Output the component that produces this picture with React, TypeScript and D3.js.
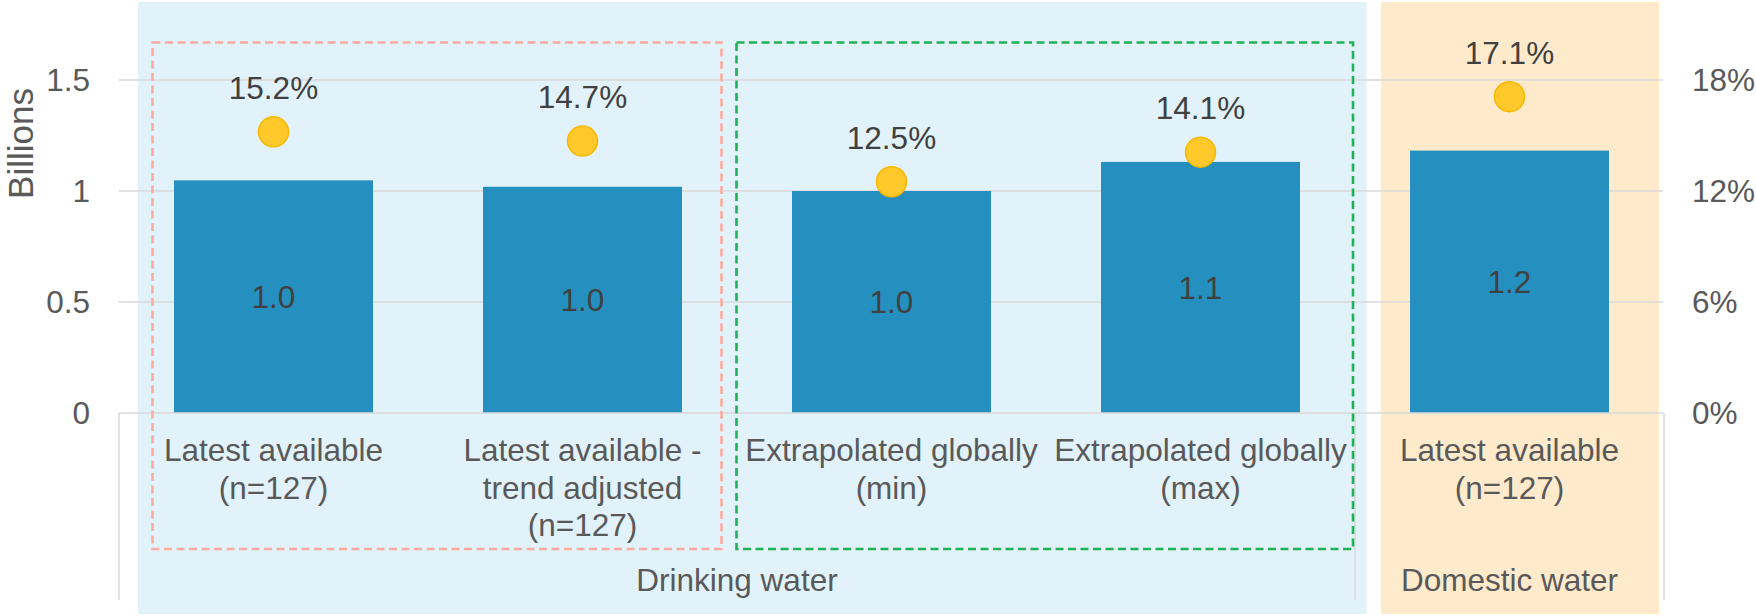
import React from "react";
import * as d3 from "d3";

// Category labels (one array of lines per bar)
const categoryLines: string[][] = [
  ["Latest available", "(n=127)"],
  ["Latest available -", "trend adjusted", "(n=127)"],
  ["Extrapolated globally", "(min)"],
  ["Extrapolated globally", "(max)"],
  ["Latest available", "(n=127)"],
];

// Population without access (billions)
const billions: number[] = [1.048, 1.019, 1.0, 1.131, 1.182];

// Share of population (%)
const shares: number[] = [15.2, 14.7, 12.5, 14.1, 17.1];

// Outer category groups: [first index, last index]
const groupNames: string[] = ["Drinking water", "Domestic water"];
const groupSpans: [number, number][] = [
  [0, 3],
  [4, 4],
];

const leftTicks: number[] = [0, 0.5, 1, 1.5];
const rightTicks: number[] = [0, 6, 12, 18];

const W = 1756;
const H = 616;
const FONT = "'Liberation Sans', Arial, Helvetica, sans-serif";
const FS = 31.5;

export default function App() {
  const x0 = 119;
  const x1 = 1664;
  const yBase = 413;
  const yTop = 80;

  const idx = billions.map((_, i) => i);
  const x = d3
    .scaleBand<number>()
    .domain(idx)
    .range([x0, x1])
    .paddingInner(0.356)
    .paddingOuter(0.178);
  const step = x.step();

  const yL = d3.scaleLinear().domain([0, 1.5]).range([yBase, yTop]);
  const yR = d3.scaleLinear().domain([0, 18]).range([yBase, yTop]);

  const fmtBar = d3.format(".1f");
  const fmtPct = (v: number) => d3.format(".1f")(v) + "%";
  const fmtTickL = (v: number) => (v === 0 ? "0" : d3.format("~g")(v));
  const fmtTickR = (v: number) => `${v}%`;

  const cx = (i: number) => (x(i) as number) + x.bandwidth() / 2;
  const groupEdge = (i: number) => x0 + i * step;

  // dashed boxes surrounding category pairs
  const boxes = [
    { color: "#fdab9f", x: 152.5, x2: 721.5 },
    { color: "#1fb356", x: 736.5, x2: 1353 },
  ];

  return (
    <svg
      width={W}
      height={H}
      style={{ position: "absolute", left: 0, top: 0, fontFamily: FONT }}
    >
      <rect width={W} height={H} fill="#ffffff" />
      {/* group backgrounds */}
      <rect x={138} y={2} width={1366.5 - 138} height={612} fill="#e1f2fa" />
      <rect x={1381} y={2} width={1659 - 1381} height={612} fill="#ffeacc" />

      {/* gridlines */}
      {leftTicks
        .filter((t) => t > 0)
        .map((t) => (
          <line
            key={t}
            x1={x0}
            x2={1663}
            y1={yL(t)}
            y2={yL(t)}
            stroke="#d9d9d9"
            strokeWidth={1.5}
          />
        ))}

      {/* bars */}
      {billions.map((v, i) => (
        <rect
          key={i}
          x={x(i)}
          y={yL(v)}
          width={x.bandwidth()}
          height={yBase - yL(v)}
          fill="#2590bf"
        />
      ))}

      {/* bar value labels */}
      {billions.map((v, i) => (
        <text
          key={i}
          x={cx(i)}
          y={(yL(v) + yBase) / 2}
          dy="0.36em"
          textAnchor="middle"
          fontSize={FS}
          fill="#404040"
        >
          {fmtBar(v)}
        </text>
      ))}

      {/* share markers */}
      {shares.map((s, i) => (
        <circle
          key={i}
          cx={cx(i)}
          cy={yR(s)}
          r={15}
          fill="#ffc92b"
          stroke="#f6b800"
          strokeWidth={1.5}
        />
      ))}
      {shares.map((s, i) => (
        <text
          key={i}
          x={cx(i)}
          y={yR(s) - 33}
          textAnchor="middle"
          fontSize={FS}
          fill="#404040"
        >
          {fmtPct(s)}
        </text>
      ))}

      {/* axes */}
      <line x1={x0} x2={1663} y1={yBase} y2={yBase} stroke="#d9d9d9" strokeWidth={1.5} />
      {[0, 4, 5].map((k) => (
        <line
          key={k}
          x1={groupEdge(k)}
          x2={groupEdge(k)}
          y1={yBase}
          y2={600}
          stroke="#d9d9d9"
          strokeWidth={1.5}
        />
      ))}

      {leftTicks.map((t) => (
        <text
          key={t}
          x={90}
          y={yL(t)}
          dy="0.36em"
          textAnchor="end"
          fontSize={FS}
          fill="#595959"
        >
          {fmtTickL(t)}
        </text>
      ))}
      {rightTicks.map((t) => (
        <text
          key={t}
          x={1692}
          y={yR(t)}
          dy="0.36em"
          textAnchor="start"
          fontSize={FS}
          fill="#595959"
        >
          {fmtTickR(t)}
        </text>
      ))}

      <text
        transform={`translate(33, 143.5) rotate(-90)`}
        textAnchor="middle"
        fontSize={35}
        fill="#595959"
      >
        Billions
      </text>

      {/* category labels */}
      {categoryLines.map((lines, i) => (
        <text key={i} textAnchor="middle" fontSize={FS} fill="#595959">
          {lines.map((ln, j) => (
            <tspan key={j} x={cx(i)} y={461 + j * 37.5}>
              {ln}
            </tspan>
          ))}
        </text>
      ))}

      {/* group labels */}
      {groupNames.map((g, k) => {
        const [a, b] = groupSpans[k];
        const mid = (groupEdge(a) + groupEdge(b + 1)) / 2;
        return (
          <text key={g} x={mid} y={591} textAnchor="middle" fontSize={FS} fill="#595959">
            {g}
          </text>
        );
      })}

      {/* dashed boxes */}
      {boxes.map((b, k) => (
        <rect
          key={k}
          x={b.x}
          y={42.5}
          width={b.x2 - b.x}
          height={549 - 42.5}
          fill="none"
          stroke={b.color}
          strokeWidth={2.6}
          strokeDasharray="8 4.5"
        />
      ))}
    </svg>
  );
}
